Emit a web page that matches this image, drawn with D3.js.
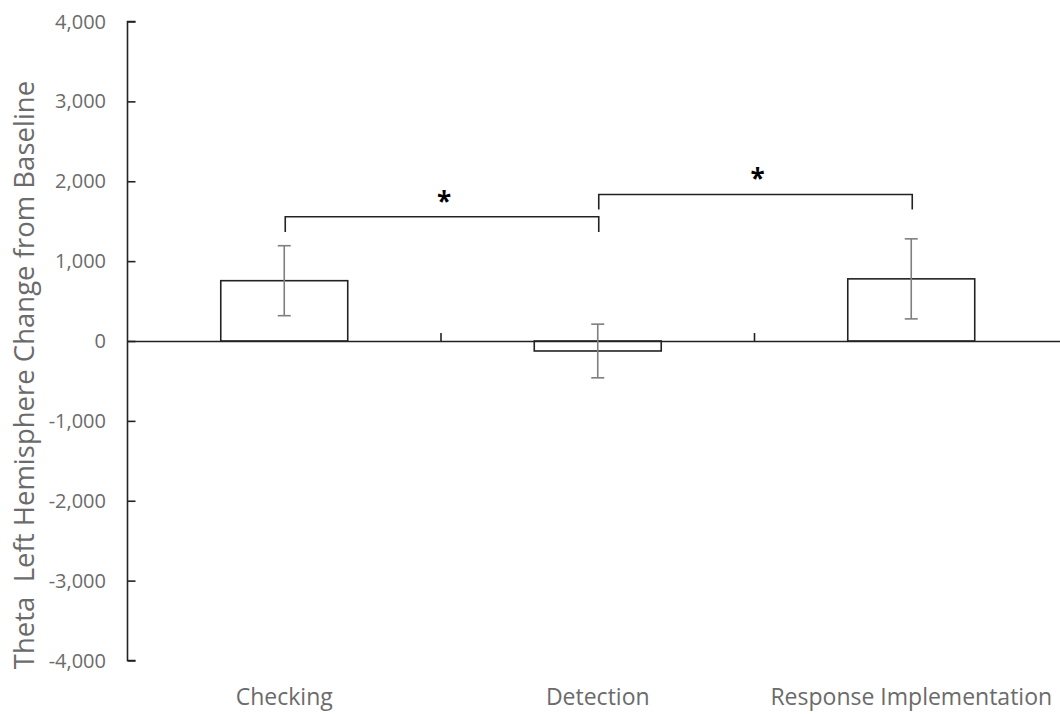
<!DOCTYPE html>
<html>
<head>
<meta charset="utf-8">
<script src="https://cdn.jsdelivr.net/npm/d3@7"></script>
<style>
  body { margin: 0; background: #fff; }
  text { font-family: "Open Sans", "Noto Sans", sans-serif; fill: #6b6b6b; }
</style>
</head>
<body>
<script>
// Data
var categories = ["Checking", "Detection", "Response Implementation"];
var means = [755, -125, 778];
var errors = [438, 336, 501];
var yTicks = [-4000, -3000, -2000, -1000, 0, 1000, 2000, 3000, 4000];
// significance brackets: from category, to category, bar height, leg bottom
var bracketFrom = [0, 1];
var bracketTo = [1, 2];
var bracketTop = [1555, 1835];
var bracketLeg = [1365, 1645];

//Settings
var width = 1060;
var height = 714;
var axisX = 127.5;
var plotRight = 1068;
var plotTop = 21.5;
var plotBottom = 660.5;
var barFrac = 0.405;

var svg = d3.select("body").append("svg").attr("width", width).attr("height", height);

//Scales
var x = d3.scaleBand().domain(categories).range([axisX, plotRight]).padding(0);
var y = d3.scaleLinear().domain([-4000, 4000]).range([plotBottom, plotTop]);
var barW = x.bandwidth() * barFrac;
var cx = function(i) { return x(categories[i]) + x.bandwidth() / 2; };

//Y axis
var yAxis = svg.append("g").attr("transform", "translate(" + axisX + ",0)")
    .call(d3.axisRight(y).tickValues(yTicks).tickSize(8).tickFormat(""));
yAxis.select(".domain").attr("stroke", "#222").attr("stroke-width", 1.6).attr("d", "M8," + plotTop + "H0V" + plotBottom + "H8");
yAxis.selectAll(".tick line").attr("stroke", "#222").attr("stroke-width", 1.6);

svg.append("g").selectAll("text").data(yTicks).join("text")
    .attr("x", 106).attr("y", function(d) { return y(d); })
    .attr("dy", "0.35em").attr("text-anchor", "end").attr("font-size", 20)
    .text(function(d) { return d3.format(",")(d).replace("−", "-"); });

//Y title
svg.append("text").attr("transform", "translate(34," + 375 + ") rotate(-90)")
    .attr("text-anchor", "middle").attr("font-size", 27.5).style("white-space", "pre")
    .text("Theta  Left Hemisphere Change from Baseline");

//Bars
svg.append("g").selectAll("rect").data(means).join("rect")
    .attr("x", function(d, i) { return cx(i) - barW / 2; })
    .attr("y", function(d) { return y(Math.max(0, d)); })
    .attr("width", barW)
    .attr("height", function(d) { return Math.abs(y(d) - y(0)); })
    .attr("fill", "#fff").attr("stroke", "#222").attr("stroke-width", 1.6);

//X axis (zero line)
var xAxis = svg.append("g").attr("transform", "translate(0," + y(0) + ")")
    .call(d3.axisTop(x).tickSize(0).tickFormat(""));
xAxis.select(".domain").attr("stroke", "#222").attr("stroke-width", 1.6);
xAxis.append("g").selectAll("line").data(categories.slice(1)).join("line")
    .attr("x1", function(d) { return x(d); }).attr("x2", function(d) { return x(d); })
    .attr("y1", 0).attr("y2", -8).attr("stroke", "#222").attr("stroke-width", 1.6);

//Category labels
svg.append("g").selectAll("text").data(categories).join("text")
    .attr("x", function(d, i) { return cx(i); }).attr("y", 705)
    .attr("text-anchor", "middle").attr("font-size", 23)
    .text(function(d) { return d; });

//Error bars
var eb = svg.append("g").attr("stroke", "#7f7f7f").attr("stroke-width", 1.6);
means.forEach(function(m, i) {
    var c = cx(i);
    eb.append("line").attr("x1", c).attr("x2", c).attr("y1", y(m + errors[i])).attr("y2", y(m - errors[i]));
    eb.append("line").attr("x1", c - 6.5).attr("x2", c + 6.5).attr("y1", y(m + errors[i])).attr("y2", y(m + errors[i]));
    eb.append("line").attr("x1", c - 6.5).attr("x2", c + 6.5).attr("y1", y(m - errors[i])).attr("y2", y(m - errors[i]));
});

//Brackets
var br = svg.append("g");
bracketFrom.forEach(function(f, i) {
    var x1 = cx(f) + 1, x2 = cx(bracketTo[i]) + 1;
    br.append("path")
        .attr("d", "M" + x1 + "," + y(bracketLeg[i]) + "V" + y(bracketTop[i]) + "H" + x2 + "V" + y(bracketLeg[i]))
        .attr("fill", "none").attr("stroke", "#222").attr("stroke-width", 1.6);
    br.append("text").attr("x", (x1 + x2) / 2 + 2).attr("y", y(bracketTop[i]) - 6)
        .attr("text-anchor", "middle").attr("font-size", 26).attr("font-weight", "bold").style("fill", "#000")
        .text("*");
});
</script>
</body>
</html>
